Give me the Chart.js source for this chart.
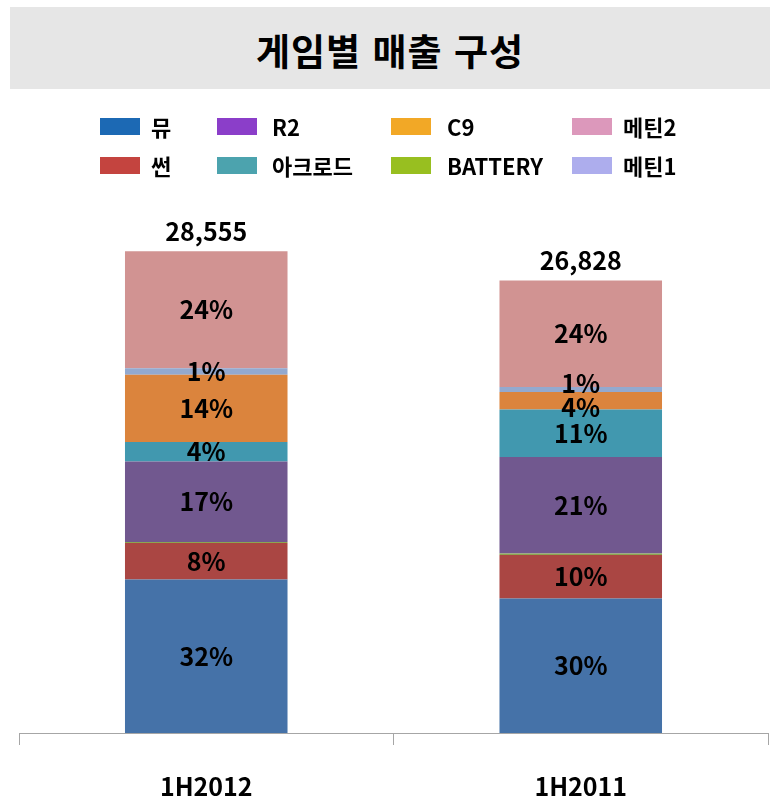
<!DOCTYPE html>
<html lang="ko">
  <head>
    <meta http-equiv="content-type" content="text/html; charset=UTF-8">
    <title>게임별 매출 구성</title>
    <style>
      body { margin: 0; background: #fff; font-family: "Noto Sans CJK KR", "Noto Sans", sans-serif; }
      .page { position: relative; width: 770px; height: 800px; overflow: hidden; }
      .title-band {
        position: absolute; left: 10px; top: 7px; width: 760px; height: 82px;
        background: #E6E6E6; text-align: center; line-height: 86px;
        font-size: 37px; font-weight: bold; color: #000; letter-spacing: 1px;
      }
      .legend-item { position: absolute; height: 17px; }
      .legend-item .swatch { position: absolute; top: 0; width: 40px; height: 17px; }
      .legend-item .text { position: absolute; font-size: 22px; font-weight: bold; color: #000; white-space: nowrap; line-height: 17px; }
      #chart { position: absolute; left: 0; top: 0; }
    </style>
  </head>
  <body>
    <div class="page">
      <canvas id="chart" width="770" height="800"></canvas>
      <div class="title-band">게임별 매출 구성</div>
      <div id="legend"></div>
    </div>
    <script src="https://cdn.jsdelivr.net/npm/chart.js@4"></script>
    <script>
      // categories and series (stack order bottom -> top)
      const periods = ['1H2012', '1H2011'];
      const games = ['뮤', '썬', 'BATTERY', 'R2', '아크로드', 'C9', '메틴1', '메틴2'];
      const sales = {
        '뮤':      [9100, 7980],
        '썬':      [2167, 2580],
        'BATTERY': [59, 77],
        'R2':      [4778, 5720],
        '아크로드': [1143, 2830],
        'C9':      [3990, 1030],
        '메틴1':   [391, 300],
        '메틴2':   [6927, 6311]
      };

      /* Colours: bars are muted, legend swatches are brighter (as in the original) */
      const barColors = ['#4572A8', '#AA4643', '#8CA650', '#71588F', '#4198AF', '#DB843D', '#93A9CF', '#D19392'];
      const legendColors = ['#1C69B4', '#C4443F', '#98BF20', '#8B3EC9', '#4CA3AE', '#F2A826', '#ADADED', '#DC98BB'];

      /* Legend layout: 4 columns x 2 rows */
      const legendOrder = [['뮤', '썬'], ['R2', '아크로드'], ['C9', 'BATTERY'], ['메틴2', '메틴1']];
      const colSwatchX = [100, 217, 391, 572];
      const colTextX = [151, 272, 447, 623];
      const rowY = [118, 157];

      const legend = document.getElementById('legend');
      legendOrder.forEach((col, c) => {
        col.forEach((name, r) => {
          const i = games.indexOf(name);
          const item = document.createElement('div');
          item.className = 'legend-item';
          item.style.top = rowY[r] + 'px';
          item.style.left = '0px';
          item.innerHTML = `<span class="swatch" style="left:${colSwatchX[c]}px;background:${legendColors[i]}"></span>` +
                           `<span class="text" style="left:${colTextX[c]}px;top:0">${name}</span>`;
          legend.appendChild(item);
        });
      });

      const totals = periods.map((p, j) => games.reduce((s, g) => s + sales[g][j], 0));

      /* Percent labels inside segments and totals above bars */
      const labelPlugin = {
        id: 'labels',
        afterDatasetsDraw(chart) {
          const ctx = chart.ctx;
          ctx.save();
          ctx.fillStyle = '#000';
          ctx.textAlign = 'center';
          ctx.textBaseline = 'middle';
          ctx.font = 'bold 25px "Noto Sans CJK KR", sans-serif';
          const minGap = 24;
          chart.data.labels.forEach((lbl, j) => {
            // collect labels of this bar, bottom -> top
            const items = [];
            chart.data.datasets.forEach((ds, i) => {
              const bar = chart.getDatasetMeta(i).data[j];
              const pct = Math.round(ds.data[j] / totals[j] * 100);
              if (pct < 1) return;
              items.push({ text: pct + '%', x: bar.x, y: (bar.y + bar.base) / 2 });
            });
            /* push apart labels that sit too close */
            for (let k = 1; k < items.length; k++) {
              const gap = items[k - 1].y - items[k].y;
              if (gap < minGap) {
                const d = (minGap - gap) / 2;
                items[k - 1].y += d;
                items[k].y -= d;
              }
            }
            items.forEach(it => ctx.fillText(it.text, it.x, it.y));
          });
          const top = chart.getDatasetMeta(chart.data.datasets.length - 1);
          top.data.forEach((bar, j) => {
            ctx.fillText(totals[j].toLocaleString('en-US'), bar.x, bar.y - 20);
          });
          ctx.restore();
        }
      };

      new Chart(document.getElementById('chart'), {
        type: 'bar',
        data: {
          labels: periods,
          datasets: games.map((g, i) => ({
            label: g,
            data: sales[g],
            backgroundColor: barColors[i],
            borderWidth: 0,
            categoryPercentage: 1,
            barPercentage: 0.434
          }))
        },
        options: {
          responsive: false,
          animation: false,
          layout: { padding: { top: 227, left: 19, right: 2, bottom: 3 } },
          plugins: {
            legend: { display: false },
            title: { display: false },
            tooltip: { enabled: false }
          },
          scales: {
            x: {
              stacked: true,
              afterFit: (scale) => { scale.height = 64; },
              grid: {
                display: true,
                offset: true,
                drawOnChartArea: false,
                drawTicks: true,
                tickLength: 12,
                color: '#A6A6A6'
              },
              border: { display: true, color: '#A6A6A6', width: 1 },
              ticks: {
                color: '#000',
                padding: 26,
                font: { size: 25, weight: 'bold', family: '"Noto Sans CJK KR", sans-serif' }
              }
            },
            y: {
              stacked: true,
              display: false,
              min: 0,
              max: 30000
            }
          }
        },
        plugins: [labelPlugin]
      });
    </script>
  </body>
</html>
